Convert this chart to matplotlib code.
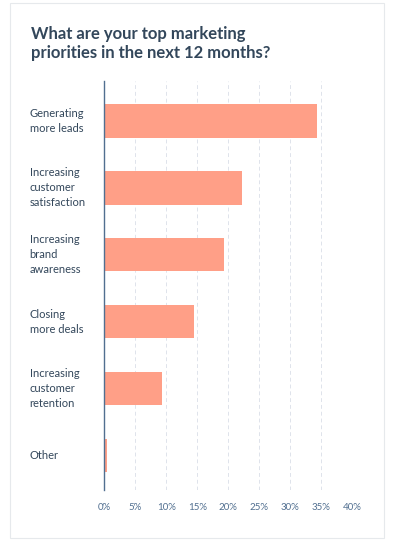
import matplotlib.pyplot as plt
from matplotlib.patches import Rectangle
import matplotlib.transforms as mtransforms

# Survey data (share of respondents, %)
categories = [
    "Generating\nmore leads",
    "Increasing\ncustomer\nsatisfaction",
    "Increasing\nbrand\nawareness",
    "Closing\nmore deals",
    "Increasing\ncustomer\nretention",
    "Other",
]
values = [34.3, 22.2, 19.3, 14.5, 9.3, 0.5]
xticks = [0, 5, 10, 15, 20, 25, 30, 35, 40]
xtick_labels = [f"{t}%" for t in xticks]

title = "What are your top marketing\npriorities in the next 12 months?"

plt.rcParams['font.family'] = ['Lato', 'DejaVu Sans']

dark = "#33475b"
grey = "#516f90"
bar_color = "#ff9f87"

fig = plt.figure(figsize=(3.93, 5.43), dpi=100)
fig.patch.set_facecolor("white")

# card border
fig.patches.append(Rectangle((10 / 393, 1 - 538 / 543), 374 / 393, 535 / 543,
                             transform=fig.transFigure, fill=False,
                             edgecolor="#e6e9ec", linewidth=0.8))

ax = fig.add_axes([104.3 / 393, 1 - 490 / 543, 248 / 393, 409 / 543])

pos = list(range(len(categories)))
ax.barh(pos, values, height=0.5, color=bar_color, zorder=3)

ax.set_xlim(0, 40)
ax.set_ylim(5.52, -0.6)
ax.set_xticks(xticks)
ax.set_xticklabels(xtick_labels, fontsize=7, color=grey)
ax.tick_params(axis='x', length=0, pad=9)
ax.set_yticks([])

for s in ["top", "right", "bottom"]:
    ax.spines[s].set_visible(False)
ax.spines["left"].set_color(grey)
ax.spines["left"].set_linewidth(1.0)
ax.spines["left"].set_zorder(4)

ax.grid(axis='x', color="#dfe3eb", linestyle=(0, (4, 3)), linewidth=0.7, zorder=0)
ax.set_axisbelow(True)

# category labels, left aligned on the card
trans = mtransforms.blended_transform_factory(fig.transFigure, ax.transData)
for p, lab in zip(pos, categories):
    ax.text(29.5 / 393, p, lab, transform=trans, ha='left', va='center',
            fontsize=8, color=dark, linespacing=1.45)

fig.text(31 / 393, 1 - 26 / 543, title, ha='left', va='top', fontsize=12,
         fontweight='bold', color=dark, linespacing=1.25)

fig.savefig("out.png", dpi=100)
